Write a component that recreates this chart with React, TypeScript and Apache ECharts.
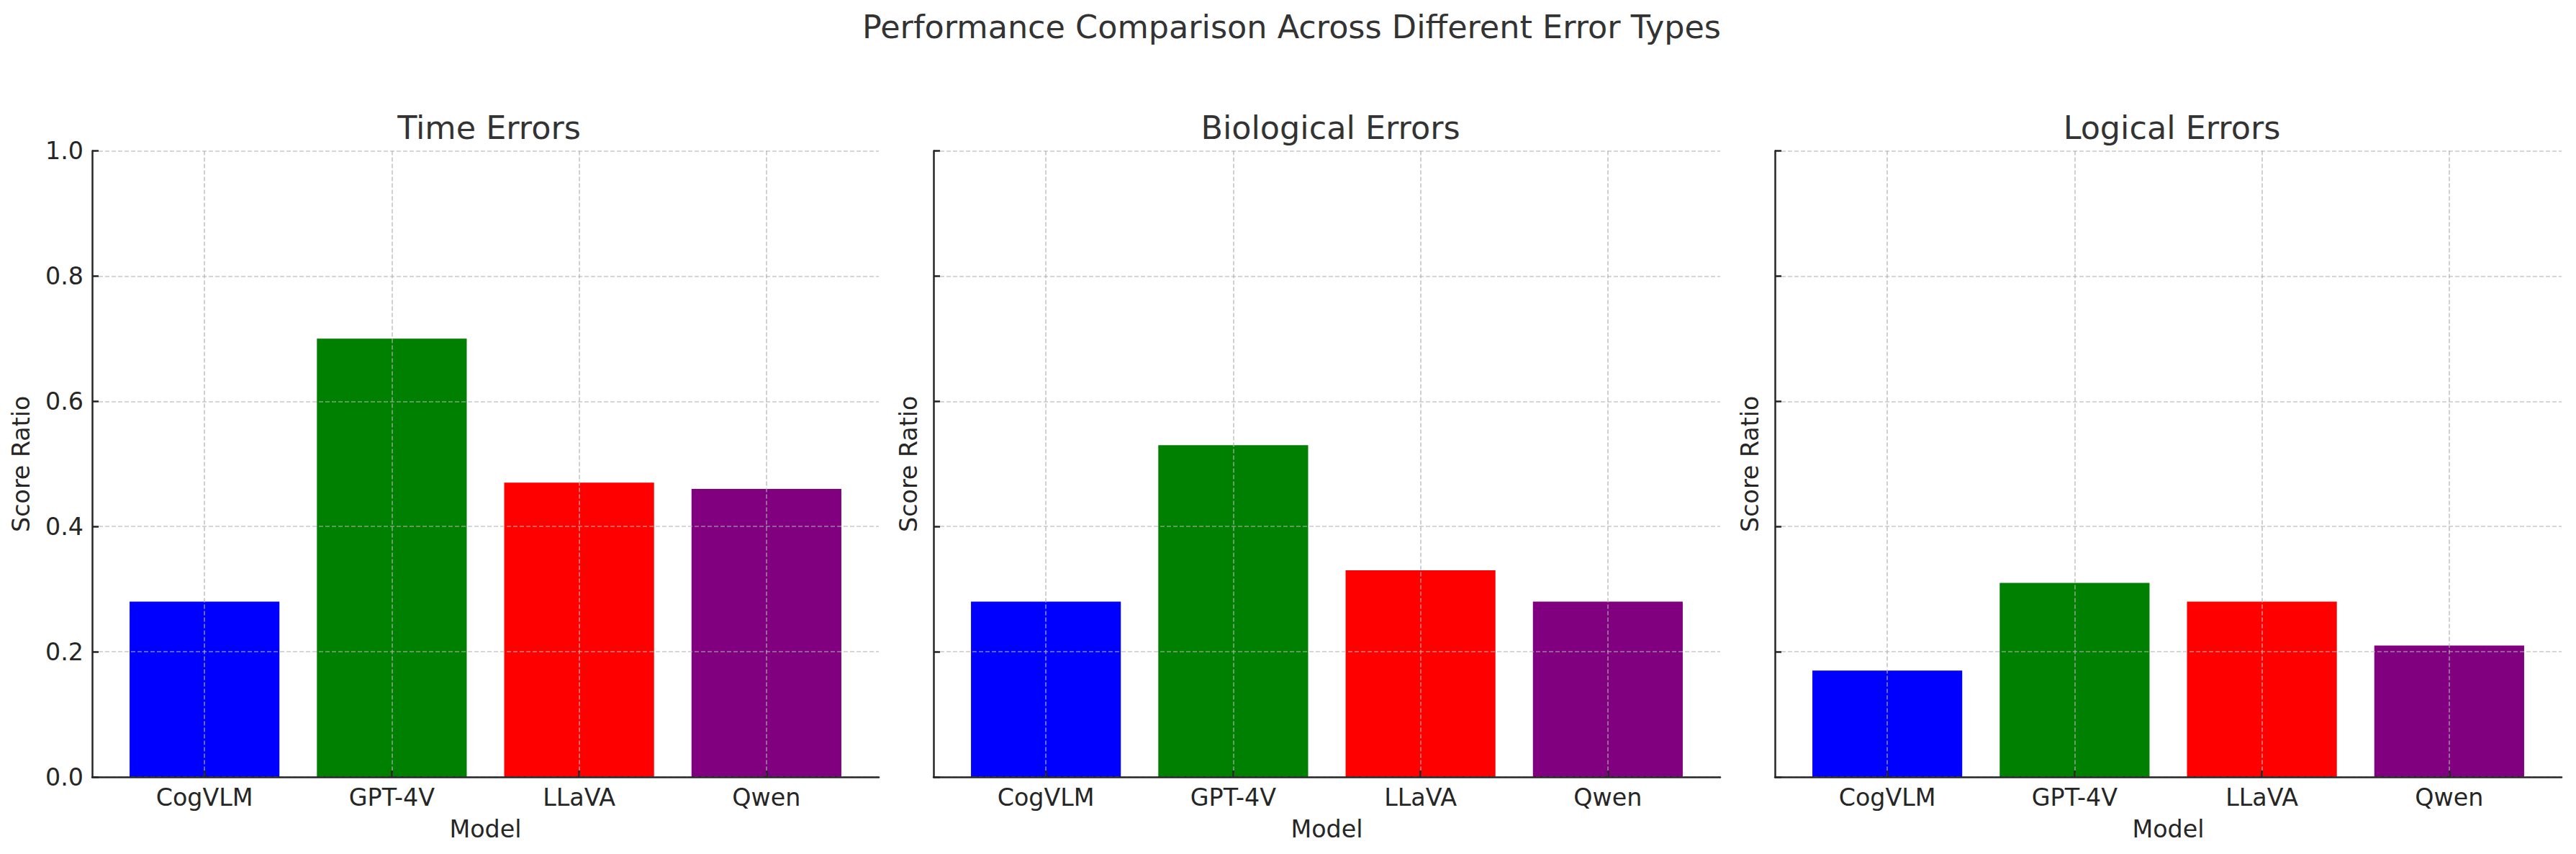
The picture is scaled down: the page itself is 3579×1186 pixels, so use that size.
import React, { useEffect, useRef } from "react";
import * as echarts from "echarts";

const categories = ["CogVLM", "GPT-4V", "LLaVA", "Qwen"];
const panelTitles = ["Time Errors", "Biological Errors", "Logical Errors"];
const timeErrors = [0.28, 0.70, 0.47, 0.46];
const biologicalErrors = [0.28, 0.53, 0.33, 0.28];
const logicalErrors = [0.17, 0.31, 0.28, 0.21];
const barColors = ["#0000ff", "#008000", "#ff0000", "#800080"];
const categoryPositions = [0, 1, 2, 3];
const suptitle = "Performance Comparison Across Different Error Types";
const xLabel = "Model";
const yLabel = "Score Ratio";

const W = 3579;
const H = 1186;
const gridLefts = [128, 1297, 2466];
const gridWidth = 1093;
const gridTop = 209.5;
const gridHeight = 869.5;
const font = "DejaVu Sans";
const dark = "#262626";
const gridColor = "rgba(176,176,176,0.7)";

export default function App() {
  const ref = useRef<HTMLDivElement>(null);
  useEffect(() => {
    if (!ref.current) return;
    const chart = echarts.init(ref.current, null, { renderer: "svg" });
    const seriesValues = [timeErrors, biologicalErrors, logicalErrors];
    const option: any = {
      animation: false,
      backgroundColor: "#ffffff",
      textStyle: { fontFamily: font },
      title: [
        {
          text: suptitle,
          left: W / 2,
          top: 10,
          textAlign: "center",
          textStyle: { fontFamily: font, fontSize: 44.5, fontWeight: "normal", color: "#333333" },
        },
        ...panelTitles.map((t, i) => ({
          text: t,
          left: gridLefts[i] + gridWidth / 2,
          top: 150,
          textAlign: "center",
          textStyle: { fontFamily: font, fontSize: 44.5, fontWeight: "normal", color: "#333333" },
        })),
      ],
      grid: gridLefts.map((l) => ({
        left: l,
        top: gridTop,
        width: gridWidth,
        height: gridHeight,
        containLabel: false,
      })),
      xAxis: gridLefts.map((_, i) => ({
        type: "value",
        gridIndex: i,
        min: -0.6,
        max: 3.6,
        z: 5,
        name: xLabel,
        nameLocation: "middle",
        nameGap: 56,
        nameTextStyle: { fontFamily: font, fontSize: 33.3, color: dark },
        axisLine: { show: true, onZero: false, lineStyle: { color: dark, width: 2.5 } },
        axisTick: {
          show: true,
          inside: true,
          length: 9,
          customValues: categoryPositions,
          lineStyle: { color: dark, width: 2.5 },
        },
        axisLabel: {
          show: true,
          customValues: categoryPositions,
          formatter: (v: number) => categories[Math.round(v)] ?? "",
          fontFamily: font,
          fontSize: 33.3,
          color: dark,
          margin: 12,
        },
        splitLine: { show: true, lineStyle: { color: gridColor, width: 1.7, type: [6, 3] } },
      })),
      yAxis: gridLefts.map((_, i) => ({
        type: "value",
        gridIndex: i,
        min: 0,
        max: 1,
        interval: 0.2,
        z: 5,
        name: yLabel,
        nameLocation: "middle",
        nameGap: i === 0 ? 82 : 18,
        nameTextStyle: { fontFamily: font, fontSize: 33.3, color: dark },
        axisLine: { show: true, onZero: false, lineStyle: { color: dark, width: 2.5 } },
        axisTick: { show: true, inside: true, length: 9, lineStyle: { color: dark, width: 2.5 } },
        axisLabel: {
          show: i === 0,
          formatter: (v: number) => v.toFixed(1),
          fontFamily: font,
          fontSize: 33.3,
          color: dark,
          margin: 12,
        },
        splitLine: { show: true, lineStyle: { color: gridColor, width: 1.7, type: [6, 3] } },
      })),
      series: seriesValues.map((vals, i) => ({
        type: "bar",
        xAxisIndex: i,
        yAxisIndex: i,
        barWidth: "80%",
        data: vals.map((v, j) => ({
          value: [categoryPositions[j], v],
          itemStyle: { color: barColors[j] },
        })),
      })),
    };
    chart.setOption(option);
    return () => chart.dispose();
  }, []);
  return (
    <div
      ref={ref}
      style={{ position: "fixed", left: 0, top: 0, width: W + "px", height: H + "px", background: "#fff" }}
    />
  );
}
